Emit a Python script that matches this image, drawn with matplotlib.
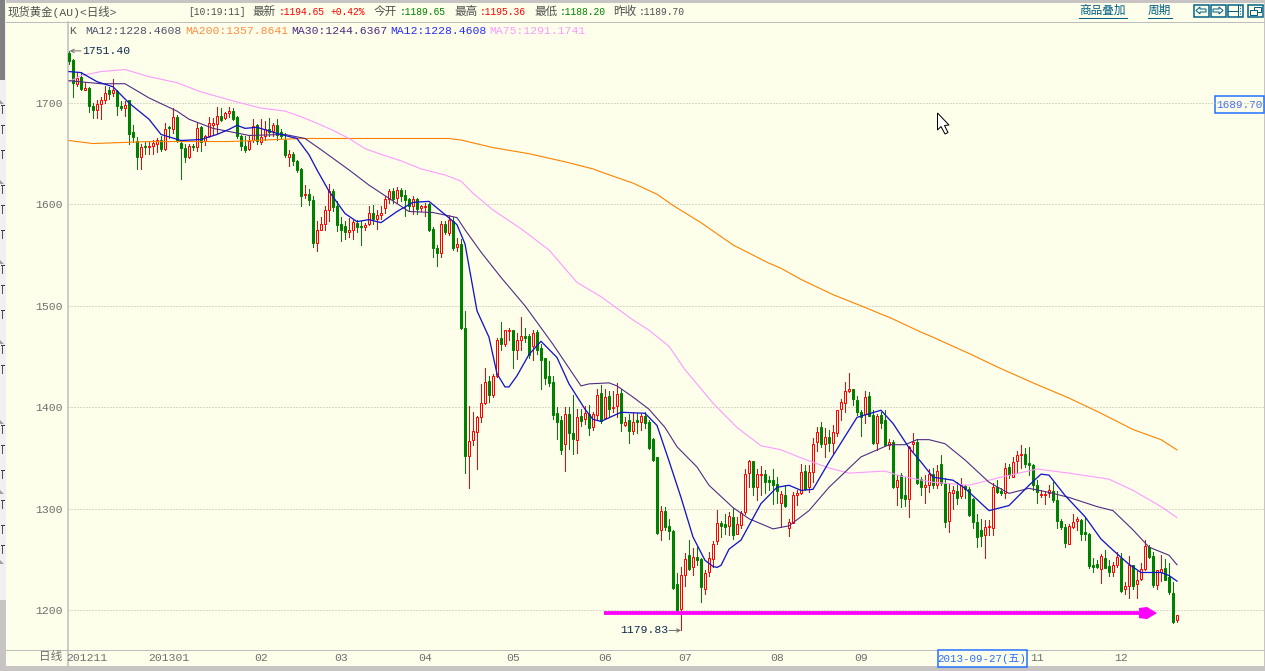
import matplotlib
matplotlib.use("Agg")
import numpy as np
import matplotlib.pyplot as plt
from matplotlib.patches import Rectangle, Polygon

opens = [
    1749,1742,1719,1726,1713,1715,1697,1693,1699,1703,
    1713,1710,1712,1697,1695,1703,1671,1663,1647,1658,
    1657,1658,1660,1664,1655,1676,1674,1686,1661,1656,
    1647,1658,1657,1676,1663,1667,1678,1679,1687,1685,
    1690,1692,1686,1667,1658,1655,1664,1678,1662,1667,
    1674,1672,1678,1671,1664,1647,1650,1643,1635,1609,
    1610,1604,1562,1575,1581,1594,1613,1598,1581,1579,
    1573,1575,1582,1579,1578,1581,1592,1586,1590,1596,
    1605,1613,1606,1614,1609,1605,1598,1605,1596,1597,
    1600,1576,1557,1552,1581,1572,1584,1558,1561,1478,
    1352,1368,1376,1390,1404,1426,1412,1431,1468,1462,
    1475,1476,1456,1466,1470,1470,1460,1474,1458,1449,
    1431,1425,1394,1387,1364,1393,1375,1368,1391,1388,
    1393,1380,1392,1414,1389,1411,1399,1401,1414,1382,
    1387,1377,1387,1385,1391,1385,1369,1351,1279,1298,
    1283,1278,1226,1201,1235,1254,1242,1252,1250,1221,
    1237,1250,1268,1286,1285,1283,1292,1275,1284,1297,
    1335,1347,1321,1333,1334,1328,1328,1324,1306,1313,
    1281,1286,1313,1315,1337,1321,1336,1366,1380,1364,
    1371,1365,1375,1398,1404,1416,1418,1407,1395,1393,
    1411,1392,1365,1392,1387,1363,1366,1321,1333,1313,
    1309,1364,1366,1329,1321,1323,1334,1323,1344,1325,
    1288,1315,1317,1312,1322,1319,1309,1287,1279,1274,
    1282,1281,1321,1317,1315,1341,1331,1347,1353,1354,
    1345,1343,1323,1313,1313,1315,1317,1308,1288,1282,
    1265,1282,1288,1289,1277,1275,1244,1245,1240,1251,
    1243,1237,1244,1251,1221,1224,1244,1226,1231,1240,
    1262,1253,1225,1237,1241,1233,1217,1189.65,
]
highs = [
    1751.4,1743,1730,1731,1721,1716,1700,1703,1706,1717,
    1716,1724,1713,1702,1702,1703,1678,1666,1660,1662,
    1662,1664,1665,1667,1680,1677,1695,1688,1664,1660,
    1660,1660,1680,1677,1668,1686,1685,1696,1695,1691,
    1696,1695,1687,1668,1667,1667,1684,1679,1684,1682,
    1685,1680,1684,1674,1670,1654,1652,1644,1636,1619,
    1615,1608,1584,1588,1598,1620,1615,1603,1588,1584,
    1587,1585,1585,1584,1582,1598,1599,1594,1598,1608,
    1615,1616,1617,1616,1614,1606,1608,1606,1599,1601,
    1601,1578,1560,1584,1584,1590,1588,1567,1566,1495,
    1401,1395,1391,1423,1439,1431,1433,1468,1484,1476,
    1478,1476,1473,1489,1478,1472,1476,1476,1462,1449,
    1446,1431,1400,1391,1400,1400,1412,1398,1398,1401,
    1402,1395,1418,1422,1418,1416,1416,1424,1418,1390,
    1393,1394,1394,1393,1395,1387,1370,1351,1303,1302,
    1290,1279,1236,1242,1256,1269,1261,1262,1251,1239,
    1257,1268,1299,1288,1295,1297,1301,1292,1298,1339,
    1348,1347,1339,1342,1338,1332,1339,1331,1317,1323,
    1290,1316,1318,1344,1343,1343,1370,1380,1385,1379,
    1378,1382,1397,1408,1425,1434,1418,1411,1397,1416,
    1415,1397,1393,1395,1397,1369,1368,1333,1335,1331,
    1362,1375,1369,1331,1333,1339,1340,1343,1353,1330,
    1324,1322,1326,1330,1323,1321,1310,1295,1290,1289,
    1289,1325,1328,1320,1345,1344,1351,1357,1363,1360,
    1361,1344,1328,1318,1317,1323,1326,1317,1290,1285,
    1285,1295,1292,1290,1292,1276,1251,1249,1255,1259,
    1249,1247,1257,1256,1228,1253,1244,1238,1246,1269,
    1264,1257,1239,1254,1250,1246,1228,1195.36,
]
lows = [
    1738,1706,1717,1713,1713,1691,1685,1685,1684,1700,
    1704,1707,1688,1693,1687,1660,1662,1635,1635,1650,
    1650,1650,1652,1653,1654,1665,1670,1662,1625,1642,
    1646,1654,1653,1653,1659,1666,1669,1670,1682,1684,
    1686,1683,1665,1654,1652,1654,1662,1660,1660,1664,
    1667,1667,1664,1665,1647,1638,1639,1632,1598,1606,
    1599,1558,1554,1575,1575,1584,1593,1574,1564,1566,
    1568,1566,1573,1560,1575,1580,1581,1576,1586,1592,
    1601,1601,1601,1603,1589,1593,1591,1591,1593,1589,
    1574,1548,1539,1548,1571,1570,1555,1554,1477,1335,
    1320,1363,1339,1385,1403,1405,1410,1430,1456,1460,
    1466,1439,1448,1456,1464,1449,1447,1452,1418,1423,
    1421,1388,1369,1354,1337,1359,1354,1355,1381,1383,
    1373,1378,1388,1384,1388,1391,1395,1390,1377,1381,
    1365,1374,1375,1378,1379,1359,1347,1275,1269,1279,
    1270,1221,1199,1179.83,1224,1239,1235,1244,1208,1216,
    1234,1242,1265,1272,1275,1274,1270,1275,1281,1295,
    1321,1313,1308,1313,1315,1318,1305,1306,1282,1302,
    1273,1286,1304,1314,1318,1316,1326,1357,1361,1351,
    1357,1355,1372,1387,1395,1415,1402,1392,1372,1384,
    1391,1364,1358,1379,1362,1359,1320,1304,1302,1303,
    1292,1357,1324,1313,1306,1316,1320,1320,1323,1282,
    1277,1300,1305,1310,1310,1293,1281,1262,1263,1251,
    1274,1274,1315,1313,1310,1330,1331,1335,1340,1341,
    1333,1318,1306,1311,1305,1311,1307,1281,1280,1262,
    1265,1281,1279,1269,1269,1241,1237,1241,1227,1241,
    1234,1234,1242,1218,1216,1212,1221,1212,1230,1239,
    1251,1223,1221,1229,1230,1216,1187,1188.2,
]
closes = [
    1741,1720,1725,1714,1715,1697,1693,1699,1703,1710,
    1709,1713,1697,1695,1698,1669,1666,1647,1657,1657,
    1658,1661,1664,1655,1674,1675,1686,1664,1656,1647,
    1658,1657,1675,1662,1667,1680,1680,1687,1683,1690,
    1692,1684,1667,1658,1654,1663,1677,1663,1666,1674,
    1671,1678,1668,1667,1649,1650,1643,1634,1608,1610,
    1604,1562,1575,1581,1594,1613,1597,1580,1575,1573,
    1575,1583,1578,1578,1580,1592,1586,1590,1592,1605,
    1613,1605,1614,1608,1604,1598,1605,1595,1598,1598,
    1575,1557,1552,1581,1573,1585,1557,1561,1478,1352,
    1367,1377,1390,1404,1425,1412,1431,1466,1462,1476,
    1476,1456,1466,1470,1468,1451,1473,1456,1447,1429,
    1424,1392,1385,1358,1393,1375,1369,1390,1386,1394,
    1379,1393,1412,1386,1410,1398,1400,1413,1384,1385,
    1377,1385,1385,1391,1384,1360,1348,1276,1298,1282,
    1278,1222,1200,1235,1250,1240,1252,1249,1223,1236,
    1251,1265,1286,1283,1282,1293,1274,1285,1296,1334,
    1347,1321,1334,1334,1326,1326,1323,1317,1314,1303,
    1287,1313,1315,1336,1319,1336,1364,1376,1364,1371,
    1365,1376,1397,1405,1416,1418,1408,1395,1390,1410,
    1391,1365,1391,1384,1363,1366,1321,1328,1310,1309,
    1361,1366,1325,1321,1323,1334,1323,1337,1325,1287,
    1316,1318,1310,1323,1319,1294,1287,1272,1273,1282,
    1283,1321,1316,1315,1340,1333,1346,1353,1354,1344,
    1343,1323,1316,1314,1314,1318,1308,1288,1282,1266,
    1283,1287,1290,1275,1275,1243,1242,1242,1253,1241,
    1237,1244,1252,1219,1224,1244,1224,1230,1240,1263,
    1252,1225,1239,1240,1230,1218,1188,1194.65,
]

ma200_idx = [0,6,20,40,58,95,98,106,115,124,131,133,141,147,151,158,166,175,178,183,191,198,206,213,216,225,233,241,250,258,266,273,277]
ma200 = [1663,1660,1662,1662,1665,1665,1663.5,1656,1650,1642,1635,1632,1621,1610,1599,1582,1560,1542,1537,1526,1511,1500,1487,1474,1469,1453,1438,1424,1409,1394,1378,1368,1357.86]

ma75_idx = [0,3,8,14,20,27,33,41,48,54,58,62,66,70,74,79,83,88,94,98,101,106,113,120,127,133,137,141,145,150,154,161,167,173,178,183,190,195,204,208,216,225,233,242,250,260,266,273,277]
ma75 = [1721,1727,1731,1733,1726,1720,1711,1702,1695,1692,1686.5,1680,1673,1665,1655,1648,1643,1635,1629,1623,
        1611,1594.5,1576,1555,1523,1509,1497.5,1486,1476,1460,1437,1404,1380,1362,1358,1350,1340,1335,1337,1332,
        1326,1323,1331,1339,1335,1329,1318,1302,1291.17]

ma30_idx = [0,8,14,20,27,30,36,45,54,59,63,70,75,80,85,91,97,99,103,108,114,121,128,130,135,137,141,145,149,152,
            157,160,166,170,176,180,185,190,198,205,209,212,215,219,224,230,235,240,245,250,257,261,266,270,275,277]
ma30 = [1722,1719,1719,1705,1692,1684,1675,1668,1669,1665,1654,1634,1619,1606,1593,1592,1587,1575,1553,1528,
        1500,1462,1421,1423,1424,1421,1410,1398,1380,1361,1341,1323,1301,1290,1280,1283,1298,1321,1351,1363,
        1363,1368,1368,1364,1348,1326,1315,1320,1316,1311,1302,1298,1279,1262,1254,1244.64]

ma12_idx = [0,3,7,11,15,20,23,28,33,37,40,42,44,47,52,57,60,62,65,69,72,75,78,82,86,90,94,97,99,102,
            105,107,109,110,112,115,118,122,125,129,131,133,138,144,147,150,153,156,159,161,162,163,164,165,168,
            173,177,180,183,186,190,197,203,206,210,213,216,221,224,230,232,235,240,243,245,
            249,254,258,261,265,268,273,275,277]
ma12 = [1731,1730,1721,1716,1700,1684,1669,1663,1664,1669,1674,1678,1675,1676,1670,1665,1649,1634,1613,1591,
        1583,1585,1582,1593,1602,1603,1590,1580,1561,1495,1469,1433,1420,1420,1431,1452,1465,1449,1423,1398,1388,1386,
        1395,1394,1382,1347,1311,1272,1249,1243,1242,1244,1252,1260,1269,1305,1321,1323,1318,1319,1346,1390,1397,1384,1360,
        1346,1331,1328,1320,1298,1300,1303,1323,1334,1333,1313,1292,1270,1259,1245,1237,1237,1234,1228.46]

y_ticks = [1200, 1300, 1400, 1500, 1600, 1700]
x_tick_pos = [4.5, 25, 48, 68, 89, 111, 134, 154, 177, 198, 242, 263]
x_tick_labels = ["201211", "201301", "02", "03", "04", "05", "06", "07", "08", "09", "11", "12"]

legend_items = [
    ("K", 69, "#5A5A5A"),
    ("MA12:1228.4608", 85, "#50506E"),
    ("MA200:1357.8641", 185, "#FF8C40"),
    ("MA30:1244.6367", 291, "#4E2A84"),
    ("MA12:1228.4608", 390, "#2A2AFF"),
    ("MA75:1291.1741", 489, "#FF99FF"),
]
header_labels = [("最新", 252), ("今开", 374), ("最高", 454), ("最低", 534), ("昨收", 613)]
header_values = [
    ("[10:19:11]", 188, "#505050"),
    (":1194.65", 279, "#FF0000"), ("+0.42%", 330, "#FF0000"),
    (":1189.65", 400, "#008000"),
    (":1195.36", 480, "#FF0000"),
    (":1188.20", 560, "#008000"),
    (":1189.70", 639, "#505050"),
]

W, H = 1265, 671
BG = "#FDFFEA"
FONT = ["Liberation Mono", "Noto Sans CJK SC", "DejaVu Sans"]
TEAL = "#005F87"
px = 0.72  # one pixel in points at dpi 100

fig = plt.figure(figsize=(W / 100, H / 100), dpi=100, facecolor="#C8C4C4")

# window furniture, drawn in pixel coordinates
ch = fig.add_axes([0, 0, 1, 1])
ch.set_xlim(0, W)
ch.set_ylim(H, 0)
ch.axis("off")
ch.add_patch(Rectangle((6, 3), 1258, 663, fc=BG, ec="none"))
ch.add_patch(Rectangle((0, 0), 6, 600, fc="#F0F0F0", ec="none"))
ch.add_patch(Rectangle((0, 0), 5, 80, fc="#808080", ec="none"))
ch.plot([6, 1264], [21.5, 21.5], color="#BDBDBD", lw=px)
ch.plot([6, 1264], [650, 650], color="#BDBDBD", lw=px)
ch.plot([67.5, 67.5], [21.5, 666], color="#BDBDBD", lw=1.5 * px)

for y in [100, 180, 260, 340, 420, 490, 560]:
    ch.add_patch(Polygon([[0, y], [4, y + 4], [0, y + 4]], fc="#A0A0A0", ec="none"))
for y in [105, 125, 150, 185, 205, 230, 265, 285, 310, 345, 365, 425, 445, 470, 500, 525, 545]:
    ch.plot([1, 4], [y, y], color="#303030", lw=px)
    ch.plot([2, 2], [y, y + 8], color="#505050", lw=px)

ch.text(8, 12, "现货黄金(AU)<日线>", color="#505050", family=FONT, fontsize=8.2, va="center", ha="left")
for s, x in header_labels:
    ch.text(x, 12, s, color="#505050", family=FONT, fontsize=8.4, va="center", ha="left")
for s, x, c in header_values:
    ch.text(x, 12, s, color=c, family=FONT, fontsize=6.9, va="center", ha="left")
for s, x, c in legend_items:
    ch.text(x, 31, s, color=c, family=FONT, fontsize=8.2, va="center", ha="left")

# top right links and buttons
ch.text(1079, 11, "商品叠加", color=TEAL, family=FONT, fontsize=8.4, va="center")
ch.plot([1079, 1127], [18, 18], color=TEAL, lw=px)
ch.text(1148, 11, "周期", color=TEAL, family=FONT, fontsize=8.4, va="center")
ch.plot([1148, 1172], [18, 18], color=TEAL, lw=px)
for x0, w in [(1193.5, 15), (1210.5, 15), (1227.5, 15), (1247.5, 15)]:
    ch.add_patch(Rectangle((x0, 4.5), w, 12, fc=BG, ec=TEAL, lw=1.5 * px))
ch.add_patch(Polygon([[1196, 10.5], [1200, 7], [1200, 9], [1206, 9], [1206, 12], [1200, 12], [1200, 14]], fc=BG, ec=TEAL, lw=px))
ch.add_patch(Polygon([[1223, 10.5], [1219, 7], [1219, 9], [1213, 9], [1213, 12], [1219, 12], [1219, 14]], fc=BG, ec=TEAL, lw=px))
ch.plot([1228, 1238, 1238, 1238, 1238], [11, 11, 5, 11, 16], color=TEAL, lw=px)
ch.plot([1240, 1240], [5, 16], color=TEAL, lw=px, ls=":")
ch.add_patch(Rectangle((1253.5, 6.5), 7, 5, fc=BG, ec=TEAL, lw=px))
ch.add_patch(Rectangle((1249.5, 9.5), 7, 5, fc=BG, ec=TEAL, lw=px))

# price box, date box
ch.add_patch(Rectangle((1214.5, 96), 49, 17, fc=BG, ec="#1E6EFF", lw=1.5 * px, zorder=5))
ch.text(1239, 104.5, "1689.70", color="#4A6CFF", family=FONT, fontsize=8, ha="center", va="center", zorder=6)
ch.add_patch(Rectangle((937.5, 650), 89, 17, fc=BG, ec="#1E6EFF", lw=1.5 * px, zorder=5))
ch.text(982, 658.5, "2013-09-27(五)", color="#2A6CFF", family=FONT, fontsize=7.8, ha="center", va="center", zorder=6)
ch.text(51, 657, "日线", color="#6E6E6E", family=FONT, fontsize=8.4, ha="center", va="center")

# chart area: 1700 sits at y=103 and 1200 at y=610, candles every 4 px from x=69
ax = fig.add_axes([68 / W, 1 - 650 / H, (1264 - 68) / W, (650 - 22) / H])
ax.patch.set_alpha(0)
scale = 507.0 / 500.0
ax.set_ylim(1200 - (650 - 610) / scale, 1200 + (610 - 22) / scale)
ax.set_xlim((68 - 69) / 4, (1264 - 69) / 4)
for s in ax.spines.values():
    s.set_visible(False)

ax.set_yticks(y_ticks)
ax.set_yticklabels([str(v) for v in y_ticks], family=FONT, fontsize=8.2, color="#6E6E6E")
ax.set_xticks(x_tick_pos)
ax.set_xticklabels(x_tick_labels, family=FONT, fontsize=8.2, color="#6E6E6E")
ax.tick_params(axis="y", length=0, pad=4)
ax.tick_params(axis="x", length=0, pad=2)
ax.grid(axis="y", color="#B4B4A4", lw=px, ls=(0, (1, 2)))
ax.set_axisbelow(True)

o = np.array(opens)
h = np.array(highs)
l = np.array(lows)
c = np.array(closes)
xs = np.arange(len(o))
up = c >= o

ax.vlines(xs[up], l[up], h[up], color="#FF0000", lw=px, antialiased=False, zorder=2)
ax.vlines(xs[~up], l[~up], h[~up], color="#008000", lw=px, antialiased=False, zorder=2)
ax.bar(xs[up], (c - o)[up], bottom=o[up], width=0.5, facecolor=BG, edgecolor="#FF0000", linewidth=px, zorder=3)
ax.bar(xs[~up], (c - o)[~up], bottom=o[~up], width=0.5, facecolor="#008000", edgecolor="#008000", linewidth=px, zorder=3)

ax.plot(ma200_idx, ma200, color="#FF8000", lw=px * 1.1, zorder=4)
ax.plot(ma75_idx, ma75, color="#FF99FF", lw=px * 1.1, zorder=4)
ax.plot(ma30_idx, ma30, color="#4E2A84", lw=px * 1.1, zorder=4)
ax.plot(ma12_idx, ma12, color="#1414C8", lw=px * 1.3, zorder=4)

# hand drawn support arrow
ax.plot([133.75, 268], [1197, 1197], color="#FF00FF", lw=3.8 * px, solid_capstyle="butt", zorder=5)
ax.add_patch(Polygon([[267.5, 1202], [269.5, 1203], [272, 1197], [269.5, 1191], [267.5, 1192]], fc="#FF00FF", ec="none", zorder=5))

# high and low markers
hi = max(highs)
lo = min(lows)
ax.annotate("", xy=(0.2, hi), xytext=(3, hi), zorder=6,
            arrowprops=dict(arrowstyle="->", color="#707070", lw=px, shrinkA=0, shrinkB=0, mutation_scale=6))
ax.text(3.2, hi, "1751.40", family=FONT, fontsize=8.2, color="#0F2A4A", ha="left", va="center", zorder=6)
ax.annotate("", xy=(153, lo), xytext=(150, lo), zorder=6,
            arrowprops=dict(arrowstyle="->", color="#707070", lw=px, shrinkA=0, shrinkB=0, mutation_scale=6))
ax.text(149.8, lo, "1179.83", family=FONT, fontsize=8.2, color="#0F2A4A", ha="right", va="center", zorder=6)

# mouse cursor
ov = fig.add_axes([0, 0, 1, 1])
ov.set_xlim(0, W)
ov.set_ylim(H, 0)
ov.axis("off")
ov.add_patch(Polygon([[937.5, 113], [937.5, 130], [941, 126.5], [945, 134], [948, 132.5], [944.5, 125.5], [949, 125]], fc="white", ec="black", lw=px))

fig.savefig("out.png", dpi=100, facecolor=fig.get_facecolor())
